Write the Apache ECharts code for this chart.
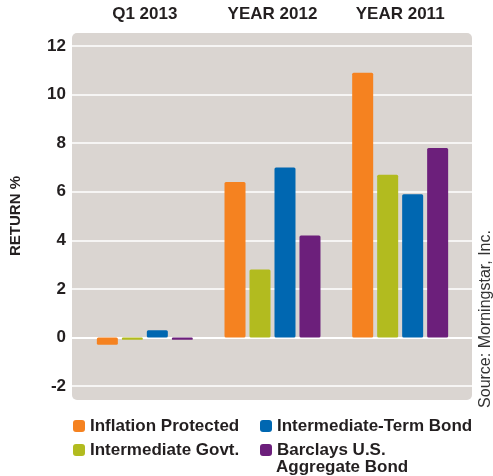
<!DOCTYPE html>
<html>
<head>
<meta charset="utf-8">
<script src="https://cdn.jsdelivr.net/npm/echarts@6/dist/echarts.min.js"></script>
<style>
html,body{margin:0;padding:0;background:#fff;}
#c{width:493px;height:476px;}
</style>
</head>
<body>
<div id="c"></div>
<script>
var categories = ['Q1 2013', 'YEAR 2012', 'YEAR 2011'];
var seriesNames = ['Inflation Protected', 'Intermediate Govt.', 'Intermediate-Term Bond', 'Barclays U.S. Aggregate Bond'];
var inflationProtected = [-0.3, 6.4, 10.9];
var intermediateGovt = [-0.1, 2.8, 6.7];
var intermediateTermBond = [0.3, 7.0, 5.9];
var barclaysAggregate = [-0.1, 4.2, 7.8];
var yTicks = { min: -2, max: 12, interval: 2 };
var colors = ['#F58220', '#B2BB1F', '#0067B1', '#6C1F7B'];

var FONT = '"Liberation Sans", Arial, sans-serif';
var TXT = '#231F20';
var values = [inflationProtected, intermediateGovt, intermediateTermBond, barclaysAggregate];

var chart = echarts.init(document.getElementById('c'), null, { renderer: 'canvas' });

var series = seriesNames.map(function (n, i) {
  return {
    name: n,
    type: 'bar',
    xAxisIndex: 1,
    yAxisIndex: 1,
    data: values[i],
    barWidth: 21,
    barGap: '19%',
    itemStyle: { color: colors[i], borderRadius: 1.5 },
    emphasis: { disabled: true }
  };
});

var legendCommon = {
  orient: 'vertical',
  icon: 'roundRect',
  padding: 0,
  itemWidth: 12,
  itemHeight: 12,
  itemGap: 6,
  itemTextGap: 4,
  selectedMode: false,
  textStyle: { fontFamily: FONT, fontSize: 17, fontWeight: 'bold', color: TXT, lineHeight: 18 },
  formatter: function (name) {
    return name === 'Barclays U.S. Aggregate Bond' ? 'Barclays U.S.' : name;
  }
};

chart.setOption({
  animation: false,
  color: colors,
  grid: [
    { left: 72, right: 21, top: 46, bottom: 90 },
    { left: 80, right: 29, top: 46, bottom: 90 }
  ],
  xAxis: [
    {
      gridIndex: 0, type: 'category', data: categories, position: 'bottom',
      axisLine: { show: true, onZero: true, lineStyle: { color: '#ffffff', width: 2 } },
      axisTick: { show: false }, axisLabel: { show: false }, splitLine: { show: false }
    },
    {
      gridIndex: 1, type: 'category', data: categories, position: 'top',
      axisLine: { show: false }, axisTick: { show: false },
      axisLabel: { margin: 23, fontFamily: FONT, fontSize: 17, fontWeight: 'bold', color: TXT }
    }
  ],
  yAxis: [
    {
      gridIndex: 0, type: 'value', min: yTicks.min, max: yTicks.max, interval: yTicks.interval,
      axisLine: { show: false }, axisTick: { show: false }, axisLabel: { show: false },
      splitLine: { show: true, lineStyle: { color: '#ffffff', width: 1.5 } }
    },
    {
      gridIndex: 1, type: 'value', min: yTicks.min, max: yTicks.max, interval: yTicks.interval,
      axisLine: { show: false }, axisTick: { show: false },
      splitLine: { show: false },
      axisLabel: { margin: 15, fontFamily: FONT, fontSize: 17, fontWeight: 'bold', color: TXT },
      name: 'RETURN %',
      nameLocation: 'middle',
      nameRotate: 90,
      nameGap: 58,
      nameTextStyle: { fontFamily: FONT, fontSize: 15, fontWeight: 'bold', color: TXT }
    }
  ],
  legend: [
    Object.assign({}, legendCommon, { left: 73, top: 417, data: [seriesNames[0], seriesNames[1]] }),
    Object.assign({}, legendCommon, { left: 260, top: 417, data: [seriesNames[2], seriesNames[3]] })
  ],
  graphic: {
    elements: [
      {
        type: 'rect', z: -100, silent: true,
        shape: { x: 72, y: 33, width: 400, height: 367, r: 5 },
        style: { fill: '#DAD5D1' }
      },
      {
        type: 'text', silent: true,
        x: 276, y: 467.5,
        style: { text: 'Aggregate Bond', font: 'bold 17px ' + FONT, fill: TXT, textVerticalAlign: 'middle', verticalAlign: 'middle' }
      },
      {
        type: 'text', silent: true,
        x: 486, y: 319, rotation: Math.PI / 2,
        style: { text: 'Source: Morningstar, Inc.', font: '16px ' + FONT, fill: '#333333', align: 'center', textAlign: 'center', verticalAlign: 'middle', textVerticalAlign: 'middle' }
      }
    ]
  },
  series: series
});
</script>
</body>
</html>
